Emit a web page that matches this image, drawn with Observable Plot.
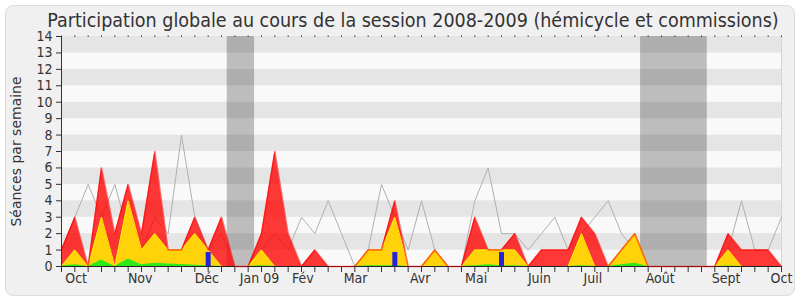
<!DOCTYPE html>
<html><head><meta charset="utf-8">
<script src="https://cdn.jsdelivr.net/npm/d3@7"></script>
<script src="https://cdn.jsdelivr.net/npm/@observablehq/plot@0.6"></script>
<style>
html,body{margin:0;padding:0;background:#fff;}
#wrap{position:relative;width:800px;height:300px;overflow:hidden;}
#frame{position:absolute;left:5px;top:5px;width:790px;height:291px;box-sizing:border-box;border:1px solid #dcdcdc;border-radius:8px;background:#f0f0f0;}
#chart{position:absolute;left:0;top:0;}
#chart svg{font-stretch:condensed;}
</style></head><body>
<div id="wrap"><div id="frame"></div><div id="chart"></div></div>
<script>
const title = "Participation globale au cours de la session 2008-2009 (hémicycle et commissions)";
const yLabel = "Séances par semaine";
// weekly values, week index 0..54
const grayVals   = [1,3,5,3,5,2,1,3,2,8,3,1,2,0,0,1,2,1,3,2,4,2,0,1,5,3,1,4,1,0,0,4,6,2,2,1,2,3,1,2,3,4,2,1,0,0,0,0,0,0,1,4,1,1,3];
const redVals    = [1,3,0,6,2,5,2,7,1,1,3,1,3,0,0,2,7,2,0,1,0,0,0,1,1,4,0,0,1,0,0,3,1,1,2,0,1,1,1,3,2,0,1,2,0,0,0,0,0,0,2,1,1,1,0];
const yellowVals = [0,1,0,3,0,4,1,2,1,1,2,1,0,0,0,1,0,0,0,0,0,0,0,1,1,3,0,0,1,0,0,1,1,1,1,0,0,0,0,2,0,0,1,2,0,0,0,0,0,0,1,0,0,0,0];
const greenVals  = [0.03,0.1,0,0.4,0,0.45,0.1,0.2,0.15,0.12,0.08,0.05,0,0,0,0.05,0,0,0,0,0,0,0,0.05,0.05,0.05,0,0,0,0,0,0.05,0.1,0.05,0.05,0,0,0,0,0.05,0,0,0.1,0.2,0,0,0,0,0,0,0.03,0,0,0,0];
const blueWeeks  = [11, 25, 33];
const blueVals   = [0.85, 0.85, 0.85];
const monthTicks  = [1.1, 5.9, 10.9, 14.85, 18.1, 22.05, 26.9, 31.1, 35.85, 39.85, 44.9, 49.85, 54];
const monthLabels = ["Oct","Nov","Déc","Jan 09","Fév","Mar","Avr","Mai","Juin","Juil","Août","Sept","Oct"];
const holidayStart = [12.43, 43.43];
const holidayEnd   = [14.48, 48.43];
const yTicks = d3.range(0, 15);

const weeks = d3.range(grayVals.length);
const stripes = d3.range(0, 14);
const holidays = holidayStart.map((s, i) => ({s, e: holidayEnd[i]}));
const labelOf = new Map(monthTicks.map((t, i) => [t, monthLabels[i]]));
const font = "'DejaVu Sans Condensed','DejaVu Sans',sans-serif";

const chart = Plot.plot({
  width: 800, height: 300,
  marginLeft: 61, marginRight: 19, marginTop: 36, marginBottom: 34,
  style: {background: "transparent", fontFamily: font, fontSize: "14px", color: "#333"},
  x: {domain: [0, 54]},
  y: {domain: [0, 14]},
  marks: [
    Plot.rect(stripes, {x1: 0, x2: 54, y1: d => d, y2: d => d + 1, fill: d => d % 2 ? "#e5e5e5" : "#f9f9f9"}),
    Plot.rect(holidays, {x1: d => d.s, x2: d => d.e, y1: 0, y2: 14, fill: "#000", fillOpacity: 0.24}),
    Plot.ruleX([54], {stroke: "#d4d4d4"}),
    Plot.line(weeks, {x: d => d, y: d => grayVals[d], stroke: "#b0b0b0", strokeWidth: 1}),
    Plot.areaY(weeks, {x: d => d, y1: 0, y2: d => redVals[d], fill: "#ff0000", fillOpacity: 0.78}),
    Plot.areaY(weeks, {x: d => d, y1: 0, y2: d => yellowVals[d], fill: "#ffd20a"}),
    Plot.line(weeks, {x: d => d, y: d => yellowVals[d], stroke: "#ffee00", strokeWidth: 1}),
    Plot.areaY(weeks, {x: d => d, y1: 0, y2: d => greenVals[d], fill: "#2ee81a"}),
    Plot.ruleY([0], {stroke: "#222"}),
    Plot.line(weeks, {x: d => d, y: d => redVals[d], stroke: "#ff0000", strokeWidth: 1.5, strokeOpacity: 0.55}),
    Plot.ruleX(blueWeeks, {x: d => d, y1: 0, y2: (d, i) => blueVals[i], stroke: "#2424dd", strokeWidth: 5}),
    Plot.ruleX([0], {stroke: "#333"}),
    Plot.axisY(yTicks, {tickSize: 5, tickPadding: 4, label: null, stroke: "#333"}),
    Plot.axisX(weeks, {anchor: "bottom", tickSize: 6, tickFormat: () => "", label: null, stroke: "#333"}),
    Plot.axisX(weeks, {anchor: "top", tickSize: 1.5, tickFormat: () => "", label: null, stroke: "#333"}),
    Plot.axisX(monthTicks, {anchor: "bottom", tickSize: 0, tickPadding: 7, tickFormat: d => labelOf.get(d), label: null}),
    Plot.text([yLabel], {frameAnchor: "left", textAnchor: "middle", lineAnchor: "middle", rotate: -90, dx: -45, fontSize: 14, fontFamily: "'DejaVu Sans',sans-serif", fill: "#333"}),
    Plot.text([title], {frameAnchor: "top", lineAnchor: "bottom", dx: -8.5, dy: -9.3, fontSize: 19.5, fill: "#333"})
  ]
});
d3.select(chart).selectAll("text").filter(function() { return this.textContent === yLabel; })
  .style("font-stretch", "normal").style("font-family", "'DejaVu Sans',sans-serif");
document.getElementById("chart").appendChild(chart);
</script></body></html>
